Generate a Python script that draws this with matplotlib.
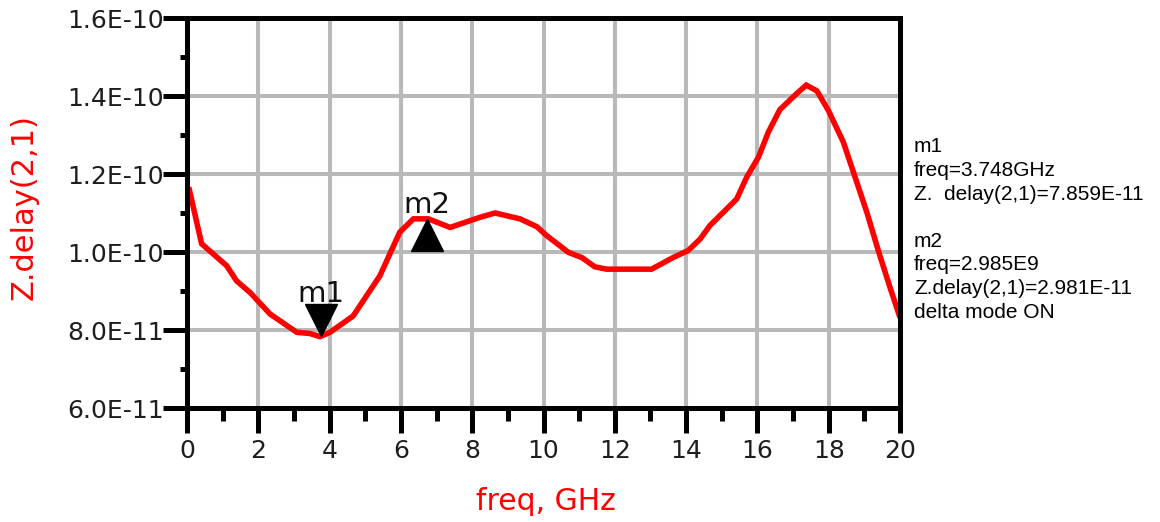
import matplotlib
matplotlib.use("Agg")
import matplotlib.pyplot as plt
import matplotlib.transforms as mtransforms
from matplotlib.ticker import MultipleLocator

# ---- data ----
freq_ghz = [0.05, 0.41, 1.11, 1.39, 1.77, 2.33, 3.08, 3.45, 3.73, 4.01, 4.66, 5.41,
            5.97, 6.35, 6.77, 7.38, 8.22, 8.64, 9.34, 9.81, 10.09, 10.7, 11.07,
            11.44, 11.77, 13.03, 13.64, 14.06, 14.39, 14.67, 15.42, 15.7, 16.03,
            16.31, 16.63, 17.1, 17.37, 17.67, 17.99, 18.41, 18.74, 19.07, 19.39,
            19.72, 20.0]
delay_e11 = [11.66, 10.21, 9.65, 9.26, 8.96, 8.41, 7.94, 7.91, 7.83, 7.94, 8.36, 9.39,
             10.51, 10.85, 10.85, 10.63, 10.89, 11.0, 10.85, 10.65, 10.42, 9.99, 9.86,
             9.62, 9.56, 9.56, 9.86, 10.04, 10.33, 10.68, 11.36, 11.92, 12.43,
             13.08, 13.65, 14.06, 14.28, 14.13, 13.63, 12.82, 11.92, 11.02, 10.04,
             9.09, 8.32]
delay = [v * 1e-11 for v in delay_e11]

x_ticks = [0, 2, 4, 6, 8, 10, 12, 14, 16, 18, 20]
y_ticks = [6.0e-11, 8.0e-11, 1.0e-10, 1.2e-10, 1.4e-10, 1.6e-10]
y_tick_labels = ["6.0E-11", "8.0E-11", "1.0E-10", "1.2E-10", "1.4E-10", "1.6E-10"]

m1_freq = 3.748
m1_delay = 7.859e-11
m2_freq = 3.748 + 2.985
m2_delay = 7.859e-11 + 2.981e-11

info_lines = ["m1", "freq=3.748GHz", "Z.  delay(2,1)=7.859E-11", "",
              "m2", "freq=2.985E9", "Z.delay(2,1)=2.981E-11", "delta mode ON"]

# ---- figure ----
W, H = 1160, 522
fig = plt.figure(figsize=(W / 100, H / 100), dpi=100)
ax = fig.add_axes([187 / W, 1 - 408 / H, (900 - 187) / W, (408 - 18) / H])

red = "#ff0000"
ax.plot(freq_ghz, delay, color=red, lw=4.0, zorder=3, solid_joinstyle="miter",
        solid_capstyle="butt", clip_on=False)

ax.set_xlim(0, 20)
ax.set_ylim(6.0e-11, 1.6e-10)
ax.set_xticks(x_ticks)
ax.set_yticks(y_ticks)
ax.set_yticklabels(y_tick_labels)
ax.xaxis.set_minor_locator(MultipleLocator(1))
ax.yaxis.set_minor_locator(MultipleLocator(1e-11))

ax.grid(True, which="major", color="#b9b9b9", lw=2.9, zorder=1)
ax.set_axisbelow(True)
for s in ax.spines.values():
    s.set_linewidth(3.6)
    s.set_color("black")
    s.set_zorder(4)

ax.tick_params(axis="x", which="major", direction="out", length=18, width=3.6,
               labelsize=18, pad=4, colors="black", labelcolor="#1e1e1e")
ax.tick_params(axis="x", which="minor", direction="out", length=9, width=3.6)
ax.tick_params(axis="y", which="major", direction="out", length=17, width=3.6,
               labelsize=18, pad=0, labelcolor="#1e1e1e")
ax.tick_params(axis="y", which="minor", direction="out", length=5, width=3.6)

fig.text(546 / W, 1 - 502 / H, "freq, GHz", color=red, fontsize=21.5,
         ha="center", va="center")
fig.text(24 / W, 1 - 207 / H, "Z.delay(2,1)", color=red, fontsize=22,
         ha="center", va="center", rotation=90)

# markers
up = mtransforms.offset_copy(ax.transData, fig=fig, x=0, y=11.5, units="points")
down = mtransforms.offset_copy(ax.transData, fig=fig, x=0, y=-11.5, units="points")
ax.plot([m1_freq], [m1_delay], marker="v", ms=23, color="black", transform=up,
        zorder=5, clip_on=False)
ax.plot([m2_freq], [m2_delay], marker="^", ms=23, color="black", transform=down,
        zorder=5, clip_on=False)
lab1 = mtransforms.offset_copy(ax.transData, fig=fig, x=0, y=30, units="points")
lab2 = mtransforms.offset_copy(ax.transData, fig=fig, x=0, y=10, units="points")
ax.text(m1_freq, m1_delay, "m1", transform=lab1, ha="center", va="center",
        fontsize=21, color="#111111", zorder=6)
ax.text(m2_freq, m2_delay, "m2", transform=lab2, ha="center", va="center",
        fontsize=21, color="#111111", zorder=6)

# info text
y0 = 147
for i, line in enumerate(info_lines):
    if line:
        fig.text(914 / W, 1 - (y0 + i * 23.6) / H, line, ha="left", va="center",
                 fontsize=15, family="Liberation Sans", color="black")

fig.savefig("out.png", dpi=100)
